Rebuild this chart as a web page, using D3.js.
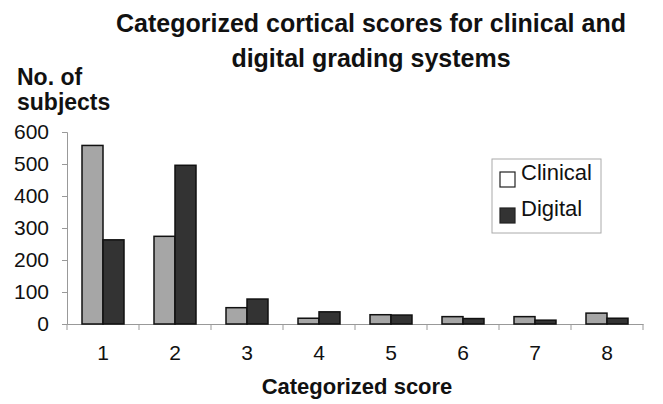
<!DOCTYPE html>
<html><head><meta charset="utf-8">
<script src="https://cdn.jsdelivr.net/npm/d3@7"></script>
<style>body{margin:0;background:#fff}svg{display:block}text{font-family:"Liberation Sans",Arial,sans-serif}</style>
</head><body><svg id="c" width="663" height="404"></svg>
<script>
const categories = ["1","2","3","4","5","6","7","8"];
const seriesNames = ["Clinical","Digital"];
const clinical = [558, 274, 51, 18, 29, 23, 23, 34];
const digital = [263, 496, 78, 38, 28, 17, 12, 18];
const yTicks = [0,100,200,300,400,500,600];
const titleLines = ["Categorized cortical scores for clinical and","digital grading systems"];
const yLabelLines = ["No. of","subjects"];
const xLabel = "Categorized score";
const colors = {Clinical:"#a6a6a6", Digital:"#333333"};
const legendFill = {Clinical:"#ffffff", Digital:"#333333"};

const svg = d3.select("#c");
const m = {l:67, r:643, t:132, b:324};
const x = d3.scaleBand().domain(categories).range([m.l, m.r]).paddingInner(0).paddingOuter(0);
const y = d3.scaleLinear().domain([0,600]).range([m.b, m.t]);
const groupW = 42;
const xs = d3.scaleBand().domain(seriesNames).range([0, groupW]);
const FF = "'Liberation Sans',Arial,sans-serif";

// title
svg.append("text").attr("x",371).attr("y",32).attr("text-anchor","middle")
  .attr("font-size",25).attr("font-weight","bold").attr("fill","#111").text(titleLines[0]);
svg.append("text").attr("x",371).attr("y",67).attr("text-anchor","middle")
  .attr("font-size",25).attr("font-weight","bold").attr("fill","#111").text(titleLines[1]);
// y label
yLabelLines.forEach((t,i)=>svg.append("text").attr("x",17).attr("y",85+i*25)
  .attr("font-size",23).attr("font-weight","bold").attr("fill","#111").text(t));

// axes
const yAxis = svg.append("g").attr("transform",`translate(${m.l},0)`)
  .call(d3.axisLeft(y).tickValues(yTicks).tickSize(5).tickPadding(13));
yAxis.select(".domain").attr("stroke","#999");
yAxis.selectAll(".tick line").attr("stroke","#999");
yAxis.selectAll("text").attr("font-size",21).attr("fill","#111").style("font-family",FF);

const xAxis = svg.append("g").attr("transform",`translate(0,${m.b})`)
  .call(d3.axisBottom(x).tickSize(0).tickPadding(0));
xAxis.select(".domain").attr("stroke","#999");
xAxis.selectAll(".tick text").attr("font-size",21).attr("fill","#111").attr("y",36).attr("dy",null).style("font-family",FF);
// category boundary ticks
xAxis.selectAll(".bt").data(d3.range(categories.length+1)).join("line").attr("class","bt")
  .attr("x1",i=>m.l+i*x.step()).attr("x2",i=>m.l+i*x.step()).attr("y1",0).attr("y2",6).attr("stroke","#999");

svg.append("text").attr("x",357).attr("y",394).attr("text-anchor","middle")
  .attr("font-size",22).attr("font-weight","bold").attr("fill","#111").text(xLabel);

// bars
const data = categories.map((c,i)=>({c, vals:[{s:"Clinical",v:clinical[i]},{s:"Digital",v:digital[i]}]}));
const g = svg.append("g").selectAll("g").data(data).join("g")
  .attr("transform",d=>`translate(${x(d.c)+x.bandwidth()/2-groupW/2},0)`);
g.selectAll("rect").data(d=>d.vals).join("rect")
  .attr("x",d=>xs(d.s)).attr("width",xs.bandwidth())
  .attr("y",d=>y(d.v)).attr("height",d=>m.b-y(d.v))
  .attr("fill",d=>colors[d.s]).attr("stroke","#111").attr("stroke-width",1.5);

// legend
const lg = svg.append("g");
lg.append("rect").attr("x",492).attr("y",159).attr("width",109).attr("height",74)
  .attr("fill","#fff").attr("stroke","#aaa").attr("stroke-width",1);
seriesNames.forEach((s,i)=>{
  lg.append("rect").attr("x",500).attr("y",172+i*36).attr("width",15).attr("height",15)
    .attr("fill",legendFill[s]).attr("stroke","#222").attr("stroke-width",1.2);
  lg.append("text").attr("x",521).attr("y",180+i*36).attr("font-size",22).attr("fill","#111").text(s);
});
</script></body></html>
